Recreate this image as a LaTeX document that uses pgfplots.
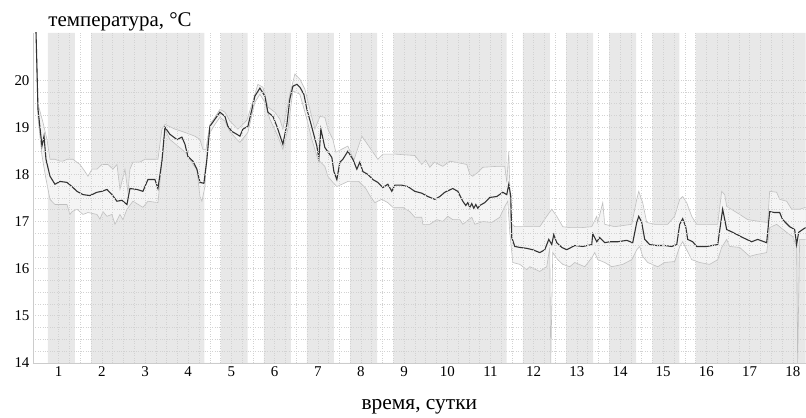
\documentclass[border=0pt]{standalone}
\usepackage{fontspec}
\setmainfont{Liberation Serif}
\usepackage{pgfplots}
\pgfplotsset{compat=1.18}

\begin{document}
\begin{tikzpicture}
\begin{axis}[
  at={(33bp,49bp)}, anchor=south west,
  width=773bp, height=330bp, scale only axis,
  xmin=0.405, xmax=18.3, ymin=14, ymax=21,
  xtick={1,...,18}, ytick={14,...,20},
  minor x tick num=3, minor y tick num=3,
  grid=both,
  major grid style={gray!35, dotted, line width=0.5pt},
  minor grid style={gray!35, dotted, line width=0.5pt},
  axis on top,
  clip mode=individual,
  axis lines*=left,
  axis line style={gray!40, line width=0.6pt},
  tick style={draw=none},
  /pgf/number format/assume math mode=true,
  ticklabel style={font=\fontsize{15}{17}\selectfont},
]
% night/weekend bands
\addplot[fill=gray!18, draw=none] coordinates {
(0.75,14) (0.75,21) (1.375,21) (1.375,14)
(1.75,14) (1.75,21) (4.375,21) (4.375,14)
(4.75,14) (4.75,21) (5.375,21) (5.375,14)
(5.75,14) (5.75,21) (6.375,21) (6.375,14)
(6.75,14) (6.75,21) (7.375,21) (7.375,14)
(7.75,14) (7.75,21) (8.375,21) (8.375,14)
(8.75,14) (8.75,21) (11.375,21) (11.375,14)
(11.75,14) (11.75,21) (12.375,21) (12.375,14)
(12.75,14) (12.75,21) (13.375,21) (13.375,14)
(13.75,14) (13.75,21) (14.375,21) (14.375,14)
(14.75,14) (14.75,21) (15.375,21) (15.375,14)
(15.75,14) (15.75,21) (18.3,21) (18.3,14)};

% band between envelopes (upper forward, lower backward)
\addplot[fill=gray!9, draw=none] coordinates {
(0.475,21.02) (0.52,19.5) (0.637,19.1) (0.729,18.74) (0.799,18.32) (0.914,18.32) (1.030,18.28)
(1.100,18.28) (1.192,18.32) (1.331,18.32) (1.493,18.21) (1.609,18.06) (1.678,17.96) (1.771,18.11)
(1.887,18.11) (2.002,18.21) (2.141,18.21) (2.257,18.11) (2.350,18.21) (2.419,17.68) (2.535,18.11)
(2.604,17.62) (2.650,18.11) (2.720,18.26) (2.882,18.26) (2.998,18.32) (3.299,18.32) (3.391,18.96)
(3.461,19.06) (3.692,18.96) (3.924,18.89) (4.155,18.81) (4.271,18.74) (4.340,18.53) (4.410,18.53)
(4.502,19.06) (4.618,19.21) (4.734,19.38) (4.850,19.32) (4.965,19.13) (5.150,18.96) (5.266,19.06)
(5.359,19.15) (5.475,19.49) (5.613,19.91) (5.729,19.85) (5.845,19.43) (6.007,19.32) (6.123,19.17)
(6.192,18.96) (6.354,19.70) (6.470,20.13) (6.586,20.02) (6.701,19.81) (6.817,19.38) (6.933,18.96)
(7.049,19.23) (7.164,19.21) (7.234,18.96) (7.350,18.74) (7.419,18.47) (7.697,18.60) (7.836,18.30)
(8.021,18.81) (8.391,18.32) (8.507,18.43) (8.785,18.43) (9.248,18.40) (9.410,18.21) (9.50,18.30)
(9.595,18.15) (9.70,18.26) (9.896,18.17) (10.058,18.28) (10.174,18.26) (10.451,18.21) (10.521,18.00)
(10.590,17.96) (10.706,18.04) (10.822,18.15) (11.146,18.17) (11.331,18.17) (11.377,17.83) (11.424,18.49)
(11.470,16.98) (11.563,16.89) (11.748,16.89) (11.910,16.89) (12.141,16.89) (12.303,17.11) (12.419,17.26)
(12.535,17.11) (12.674,16.89) (12.836,16.87) (13.113,16.87) (13.345,16.89) (13.461,17.11) (13.484,16.98)
(13.600,17.40) (13.646,16.94) (13.877,16.89) (14.271,16.94) (14.387,17.47) (14.433,17.64) (14.525,17.40)
(14.618,16.98) (14.803,16.94) (15.104,16.94) (15.266,17.11) (15.382,17.47) (15.451,17.53) (15.544,17.40)
(15.660,17.11) (15.775,16.94) (16.076,16.94) (16.262,16.94) (16.354,17.64) (16.424,17.57) (16.470,17.32)
(16.771,17.15) (16.956,17.04) (17.234,17.00) (17.419,16.98) (17.465,17.64) (17.627,17.62) (17.697,17.47)
(17.859,17.43) (17.975,17.26) (18.160,17.26) (18.299,17.30)
(18.299,16.62) (18.160,16.62) (18.090,16.47) (17.998,16.68) (17.859,16.77) (17.627,16.94) (17.465,16.87)
(17.396,16.34) (17.164,16.30) (17.002,16.26) (16.771,16.45) (16.539,16.47) (16.470,16.62) (16.354,16.45)
(16.262,16.19) (16.076,16.09) (15.845,16.13) (15.660,16.19) (15.544,16.40) (15.451,16.57) (15.382,16.47)
(15.266,16.15) (15.035,16.13) (14.873,16.04) (14.641,16.13) (14.525,16.26) (14.456,16.47) (14.387,16.40)
(14.271,16.19) (14.062,16.09) (13.808,16.04) (13.646,16.13) (13.484,16.19) (13.415,16.34) (13.345,16.23)
(13.183,16.04) (12.951,16.13) (12.836,16.04) (12.674,16.09) (12.558,16.19) (12.442,16.34) (12.373,16.45)
(12.303,16.04) (12.141,15.94) (11.910,16.04) (11.840,15.98) (11.678,16.09) (11.516,16.13) (11.447,16.77)
(11.400,17.43) (11.331,17.32) (11.215,17.09) (11.030,16.98) (10.822,17.00) (10.637,16.94) (10.567,17.09)
(10.359,16.94) (10.289,17.04) (10.127,17.04) (10.012,17.11) (9.896,17.00) (9.757,17.04) (9.595,16.94)
(9.433,16.94) (9.410,17.09) (9.248,17.09) (9.132,17.21) (8.970,17.30) (8.739,17.30) (8.623,17.40)
(8.484,17.47) (8.321,17.40) (8.206,17.55) (8.113,17.70) (7.95,17.85) (7.70,17.85) (7.442,17.74)
(7.350,17.83) (7.234,17.96) (7.164,18.17) (7.002,18.32) (6.863,18.74) (6.748,19.17) (6.586,19.70)
(6.424,19.77) (6.308,18.96) (6.192,18.53) (6.077,18.81) (5.891,19.17) (5.775,19.53) (5.660,19.70)
(5.544,19.53) (5.382,18.89) (5.197,18.68) (5.127,18.74) (4.965,18.91) (4.850,19.13) (4.734,19.21)
(4.618,19.06) (4.456,18.81) (4.387,17.74) (4.317,17.43) (4.271,17.53) (4.201,18.11) (4.109,18.21)
(3.970,18.43) (3.854,18.53) (3.576,18.74) (3.461,18.96) (3.414,18.47) (3.345,17.83) (3.299,17.40)
(3.067,17.43) (2.951,17.30) (2.720,17.43) (2.581,17.26) (2.488,17.04) (2.419,17.15) (2.303,16.94)
(2.234,17.15) (2.118,17.11) (2.025,17.21) (1.956,17.05) (1.887,17.15) (1.678,17.19) (1.563,17.15)
(1.424,17.26) (1.308,17.21) (1.262,17.15) (1.192,17.36) (1.100,17.36) (0.914,17.36) (0.799,17.47)
(0.706,17.9) (0.613,18.4) (0.521,19.2) (0.49,20.5)};

% upper envelope
\addplot[draw=gray!50, line width=0.6pt] coordinates {
(0.475,21.02) (0.52,19.5) (0.637,19.1) (0.729,18.74) (0.799,18.32) (0.914,18.32) (1.030,18.28)
(1.100,18.28) (1.192,18.32) (1.331,18.32) (1.493,18.21) (1.609,18.06) (1.678,17.96) (1.771,18.11)
(1.887,18.11) (2.002,18.21) (2.141,18.21) (2.257,18.11) (2.350,18.21) (2.419,17.68) (2.535,18.11)
(2.604,17.62) (2.650,18.11) (2.720,18.26) (2.882,18.26) (2.998,18.32) (3.299,18.32) (3.391,18.96)
(3.461,19.06) (3.692,18.96) (3.924,18.89) (4.155,18.81) (4.271,18.74) (4.340,18.53) (4.410,18.53)
(4.502,19.06) (4.618,19.21) (4.734,19.38) (4.850,19.32) (4.965,19.13) (5.150,18.96) (5.266,19.06)
(5.359,19.15) (5.475,19.49) (5.613,19.91) (5.729,19.85) (5.845,19.43) (6.007,19.32) (6.123,19.17)
(6.192,18.96) (6.354,19.70) (6.470,20.13) (6.586,20.02) (6.701,19.81) (6.817,19.38) (6.933,18.96)
(7.049,19.23) (7.164,19.21) (7.234,18.96) (7.350,18.74) (7.419,18.47) (7.697,18.60) (7.836,18.30)
(8.021,18.81) (8.391,18.32) (8.507,18.43) (8.785,18.43) (9.248,18.40) (9.410,18.21) (9.50,18.30)
(9.595,18.15) (9.70,18.26) (9.896,18.17) (10.058,18.28) (10.174,18.26) (10.451,18.21) (10.521,18.00)
(10.590,17.96) (10.706,18.04) (10.822,18.15) (11.146,18.17) (11.331,18.17) (11.377,17.83) (11.424,18.49)
(11.470,16.98) (11.563,16.89) (11.748,16.89) (11.910,16.89) (12.141,16.89) (12.303,17.11) (12.419,17.26)
(12.535,17.11) (12.674,16.89) (12.836,16.87) (13.113,16.87) (13.345,16.89) (13.461,17.11) (13.484,16.98)
(13.600,17.40) (13.646,16.94) (13.877,16.89) (14.271,16.94) (14.387,17.47) (14.433,17.64) (14.525,17.40)
(14.618,16.98) (14.803,16.94) (15.104,16.94) (15.266,17.11) (15.382,17.47) (15.451,17.53) (15.544,17.40)
(15.660,17.11) (15.775,16.94) (16.076,16.94) (16.262,16.94) (16.354,17.64) (16.424,17.57) (16.470,17.32)
(16.771,17.15) (16.956,17.04) (17.234,17.00) (17.419,16.98) (17.465,17.64) (17.627,17.62) (17.697,17.47)
(17.859,17.43) (17.975,17.26) (18.160,17.26) (18.299,17.30)};

% lower envelope
\addplot[draw=gray!50, line width=0.6pt] coordinates {
(0.49,20.5) (0.521,19.2) (0.613,18.4) (0.706,17.9) (0.799,17.47) (0.914,17.36) (1.100,17.36)
(1.192,17.36) (1.262,17.15) (1.308,17.21) (1.424,17.26) (1.563,17.15) (1.678,17.19) (1.887,17.15)
(1.956,17.05) (2.025,17.21) (2.118,17.11) (2.234,17.15) (2.303,16.94) (2.419,17.15) (2.488,17.04)
(2.581,17.26) (2.720,17.43) (2.951,17.30) (3.067,17.43) (3.299,17.40) (3.345,17.83) (3.414,18.47)
(3.461,18.96) (3.576,18.74) (3.854,18.53) (3.970,18.43) (4.109,18.21) (4.201,18.11) (4.271,17.53)
(4.317,17.43) (4.387,17.74) (4.456,18.81) (4.618,19.06) (4.734,19.21) (4.850,19.13) (4.965,18.91)
(5.127,18.74) (5.197,18.68) (5.382,18.89) (5.544,19.53) (5.660,19.70) (5.775,19.53) (5.891,19.17)
(6.077,18.81) (6.192,18.53) (6.308,18.96) (6.424,19.77) (6.586,19.70) (6.748,19.17) (6.863,18.74)
(7.002,18.32) (7.164,18.17) (7.234,17.96) (7.350,17.83) (7.442,17.74) (7.70,17.85) (7.95,17.85)
(8.113,17.70) (8.206,17.55) (8.321,17.40) (8.484,17.47) (8.623,17.40) (8.739,17.30) (8.970,17.30)
(9.132,17.21) (9.248,17.09) (9.410,17.09) (9.433,16.94) (9.595,16.94) (9.757,17.04) (9.896,17.00)
(10.012,17.11) (10.127,17.04) (10.289,17.04) (10.359,16.94) (10.567,17.09) (10.637,16.94) (10.822,17.00)
(11.030,16.98) (11.215,17.09) (11.331,17.32) (11.400,17.43) (11.447,16.77) (11.516,16.13) (11.678,16.09)
(11.840,15.98) (11.910,16.04) (12.141,15.94) (12.303,16.04) (12.373,16.45) (12.396,14.00) (12.442,16.34)
(12.558,16.19) (12.674,16.09) (12.836,16.04) (12.951,16.13) (13.183,16.04) (13.345,16.23) (13.415,16.34)
(13.484,16.19) (13.646,16.13) (13.808,16.04) (14.062,16.09) (14.271,16.19) (14.387,16.40) (14.456,16.47)
(14.525,16.26) (14.641,16.13) (14.873,16.04) (15.035,16.13) (15.266,16.15) (15.382,16.47) (15.451,16.57)
(15.544,16.40) (15.660,16.19) (15.845,16.13) (16.076,16.09) (16.262,16.19) (16.354,16.45) (16.470,16.62)
(16.539,16.47) (16.771,16.45) (17.002,16.26) (17.164,16.30) (17.396,16.34) (17.465,16.87) (17.627,16.94)
(17.859,16.77) (17.998,16.68) (18.090,16.47) (18.113,14.00) (18.160,16.62) (18.299,16.62)};

% mean
\addplot[draw=black!80, line width=1.1pt] coordinates {
(0.475,21.02) (0.521,19.38) (0.613,18.60) (0.660,18.81) (0.706,18.32) (0.799,17.96) (0.914,17.79)
(1.030,17.85) (1.192,17.83) (1.308,17.74) (1.424,17.64) (1.563,17.57) (1.725,17.55) (1.887,17.62)
(2.002,17.64) (2.118,17.68) (2.234,17.57) (2.350,17.43) (2.465,17.45) (2.581,17.36) (2.650,17.70)
(2.813,17.68) (2.951,17.64) (3.067,17.89) (3.229,17.89) (3.299,17.70) (3.391,18.28) (3.461,19.00)
(3.576,18.85) (3.738,18.74) (3.854,18.79) (3.924,18.64) (3.993,18.38) (4.109,18.28) (4.201,18.11)
(4.271,17.83) (4.363,17.81) (4.433,18.32) (4.502,19.02) (4.618,19.17) (4.734,19.32) (4.850,19.23)
(4.919,19.02) (5.012,18.91) (5.127,18.85) (5.197,18.81) (5.266,18.96) (5.382,19.02) (5.475,19.38)
(5.544,19.66) (5.660,19.83) (5.775,19.66) (5.845,19.32) (5.961,19.23) (6.053,19.02) (6.100,18.89)
(6.192,18.64) (6.285,19.06) (6.354,19.60) (6.424,19.87) (6.516,19.91) (6.586,19.85) (6.678,19.70)
(6.748,19.38) (6.863,19.00) (6.979,18.60) (7.025,18.34) (7.072,18.96) (7.164,18.57) (7.326,18.36)
(7.373,18.06) (7.442,17.89) (7.512,18.26) (7.581,18.32) (7.697,18.49) (7.813,18.32) (7.905,18.11)
(7.975,18.26) (8.044,18.06) (8.160,18.00) (8.275,17.89) (8.391,17.83) (8.507,17.72) (8.623,17.79)
(8.715,17.64) (8.785,17.77) (8.947,17.77) (9.086,17.74) (9.248,17.64) (9.410,17.60) (9.549,17.53)
(9.711,17.47) (9.826,17.53) (9.942,17.62) (10.127,17.70) (10.243,17.64) (10.359,17.43) (10.428,17.34)
(10.475,17.40) (10.521,17.30) (10.567,17.38) (10.613,17.28) (10.660,17.36) (10.706,17.28) (10.752,17.34)
(10.868,17.40) (10.984,17.51) (11.146,17.53) (11.285,17.62) (11.377,17.57) (11.424,17.79) (11.470,17.53)
(11.493,16.66) (11.563,16.47) (11.678,16.45) (11.840,16.43) (11.979,16.40) (12.141,16.34) (12.257,16.40)
(12.350,16.62) (12.419,16.51) (12.465,16.72) (12.535,16.55) (12.650,16.45) (12.766,16.40) (12.951,16.49)
(13.137,16.47) (13.345,16.51) (13.368,16.74) (13.461,16.57) (13.530,16.66) (13.646,16.55) (13.762,16.57)
(13.947,16.57) (14.155,16.60) (14.294,16.55) (14.387,16.98) (14.433,17.11) (14.502,16.98) (14.572,16.62)
(14.688,16.51) (14.850,16.49) (15.035,16.49) (15.197,16.47) (15.313,16.51) (15.382,16.94) (15.451,17.06)
(15.521,16.89) (15.567,16.62) (15.683,16.57) (15.775,16.47) (16.007,16.47) (16.262,16.51) (16.377,17.26)
(16.470,16.83) (16.609,16.77) (16.840,16.66) (17.049,16.57) (17.188,16.62) (17.396,16.55) (17.465,17.21)
(17.581,17.19) (17.697,17.19) (17.766,17.04) (17.928,16.89) (18.044,16.83) (18.090,16.51) (18.137,16.77)
(18.229,16.83) (18.299,16.87)};

\node[anchor=base west, font=\fontsize{21}{24}\selectfont] at (axis description cs:0.0155,1.021) {температура, °C};
\node[anchor=base, font=\fontsize{21.5}{24}\selectfont] at (axis description cs:0.5,-0.142) {время, сутки};
\end{axis}
\path[use as bounding box] (0,0) rectangle (806bp,412bp);
\end{tikzpicture}
\end{document}
